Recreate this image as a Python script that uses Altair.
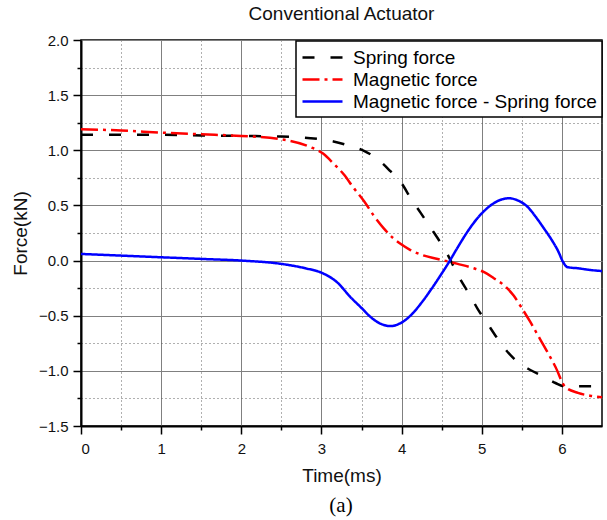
import altair as alt
import pandas as pd

# ---- data ----
time_spring = [0, 0.5, 1, 1.5, 2, 2.5, 2.86, 3.15, 3.35, 3.53, 3.7, 3.86, 4.0, 4.11, 4.24, 4.36,
               4.47, 4.57, 4.66, 4.74, 4.85, 4.95, 5.07, 5.18, 5.3, 5.45, 5.6, 5.78, 5.92, 6.03, 6.25, 6.5]
spring = [1.14, 1.14, 1.14, 1.135, 1.13, 1.125, 1.11, 1.08, 1.04, 0.995, 0.92, 0.81, 0.70, 0.57, 0.43, 0.30,
          0.18, 0.06, -0.07, -0.18, -0.31, -0.44, -0.57, -0.69, -0.81, -0.92, -0.99, -1.055, -1.11, -1.14, -1.14, -1.14]

time_mag = [0, 0.5, 1, 1.5, 2, 2.5, 2.86, 3.02, 3.15, 3.28, 3.4, 3.53, 3.65, 3.78, 3.9, 3.99, 4.1, 4.24,
            4.45, 4.7, 4.9, 5.03, 5.15, 5.28, 5.4, 5.49, 5.6, 5.71, 5.82, 5.92, 6.04, 6.2, 6.35, 6.5]
magnetic = [1.19, 1.18, 1.16, 1.145, 1.13, 1.10, 1.03, 0.97, 0.88, 0.78, 0.66, 0.54, 0.41, 0.29, 0.2, 0.15, 0.10, 0.054,
            0.015, -0.03, -0.07, -0.105, -0.16, -0.226, -0.32, -0.42, -0.55, -0.69, -0.83, -0.965, -1.145, -1.2, -1.225, -1.24]

time_diff = [0, 0.5, 1, 1.5, 2, 2.5, 2.8, 3.0, 3.2, 3.36, 3.5, 3.61, 3.73, 3.86, 3.98, 4.11, 4.24, 4.36, 4.48,
             4.59, 4.7, 4.82, 4.93, 5.03, 5.15, 5.25, 5.34, 5.45, 5.57, 5.68, 5.78, 5.87, 5.95, 6.02, 6.07, 6.2, 6.35, 6.5]
difference = [0.06, 0.045, 0.03, 0.015, 0.0, -0.03, -0.07, -0.11, -0.2, -0.33, -0.43, -0.51, -0.57, -0.594, -0.57,
              -0.50, -0.39, -0.27, -0.14, -0.015, 0.12, 0.26, 0.37, 0.45, 0.52, 0.555, 0.565, 0.545, 0.488, 0.39,
              0.287, 0.19, 0.09, -0.02, -0.06, -0.07, -0.085, -0.095]

series_names = ["Spring force", "Magnetic force", "Magnetic force - Spring force"]
series_colors = ["#000000", "#ff0000", "#0000ff"]
series_dashes = [[12, 16], [17, 5, 3, 5], [1, 0]]

x_major = [0, 1, 2, 3, 4, 5, 6]
x_minor = [0.5, 1.5, 2.5, 3.5, 4.5, 5.5]
y_major = [-1.5, -1.0, -0.5, 0.0, 0.5, 1.0, 1.5, 2.0]
y_minor = [-1.25, -0.75, -0.25, 0.25, 0.75, 1.25, 1.75]

rows = []
for name, ts, vs in zip(series_names, [time_spring, time_mag, time_diff], [spring, magnetic, difference]):
    for t, v in zip(ts, vs):
        rows.append({"t": t, "v": v, "series": name})
df = pd.DataFrame(rows)

FONT = "Liberation Sans"
xscale = alt.Scale(domain=[0, 6.5], nice=False, zero=False)
yscale = alt.Scale(domain=[-1.5, 2.0], nice=False, zero=False)

base = alt.Chart(df)

lines = base.mark_line(strokeWidth=2.5, interpolate="monotone").encode(
    x=alt.X("t:Q", scale=xscale,
            axis=alt.Axis(orient="bottom", values=x_major, format="d", title="Time(ms)",
                          grid=True, gridColor="#808080", gridWidth=1,
                          domainColor="#000000", domainWidth=2, tickColor="#000000", tickWidth=1.5,
                          tickSize=8, labelPadding=7, labelFontSize=15, labelFont=FONT, labelColor="#111111",
                          titleFont=FONT, titleFontSize=19, titleFontWeight="normal", titleColor="#111111",
                          titlePadding=10)),
    y=alt.Y("v:Q", scale=yscale,
            axis=alt.Axis(orient="left", values=y_major, format=".1f", title="Force(kN)",
                          grid=True, gridColor="#808080", gridWidth=1,
                          domainColor="#000000", domainWidth=2, tickColor="#000000", tickWidth=1.5,
                          tickSize=8, labelPadding=5, labelFontSize=15, labelFont=FONT, labelColor="#111111",
                          titleFont=FONT, titleFontSize=19, titleFontWeight="normal", titleColor="#111111",
                          titlePadding=8)),
    color=alt.Color("series:N", scale=alt.Scale(domain=series_names, range=series_colors),
                    legend=alt.Legend(title=None)),
    strokeDash=alt.StrokeDash("series:N", scale=alt.Scale(domain=series_names, range=series_dashes),
                              legend=alt.Legend(title=None)),
)

minor = base.mark_point(opacity=0).encode(
    x=alt.X("t:Q", scale=xscale,
            axis=alt.Axis(orient="bottom", values=x_minor, labels=False, title=None, domain=False,
                          grid=True, gridColor="#606060", gridDash=[1, 3], gridWidth=1,
                          tickColor="#000000", tickWidth=1.5, tickSize=4)),
    y=alt.Y("v:Q", scale=yscale,
            axis=alt.Axis(orient="left", values=y_minor, labels=False, title=None, domain=False,
                          grid=True, gridColor="#606060", gridDash=[1, 3], gridWidth=1,
                          tickColor="#000000", tickWidth=1.5, tickSize=4)),
)

caption = alt.Chart(pd.DataFrame({"c": ["(a)"]})).mark_text(
    font="Liberation Serif", fontSize=21, color="#000000", baseline="middle", align="center"
).encode(text="c:N", x=alt.value(260), y=alt.value(466))

chart = alt.layer(minor, lines, caption).resolve_axis(x="independent", y="independent").properties(
    width=521, height=386,
    title=alt.TitleParams("Conventional Actuator", font=FONT, fontSize=19, fontWeight="normal",
                          color="#111111", anchor="middle", frame="group", offset=9),
    autosize=alt.AutoSizeParams(type="none"),
    padding={"left": 81, "top": 40, "right": 5, "bottom": 94},
).configure_view(
    stroke="#000000", strokeWidth=1.5
).configure_legend(
    orient="none", legendX=215, legendY=1,
    fillColor="#ffffff", strokeColor="#000000", strokeWidth=1.5, cornerRadius=0,
    padding=5, rowPadding=0, labelFont=FONT, labelFontSize=19, labelColor="#000000",
    labelOffset=29, symbolType="M-1,0H3", symbolSize=400, symbolStrokeWidth=2.5, labelLimit=400,
)

chart.save("out.html", embed_options={"renderer": "svg", "actions": False})
